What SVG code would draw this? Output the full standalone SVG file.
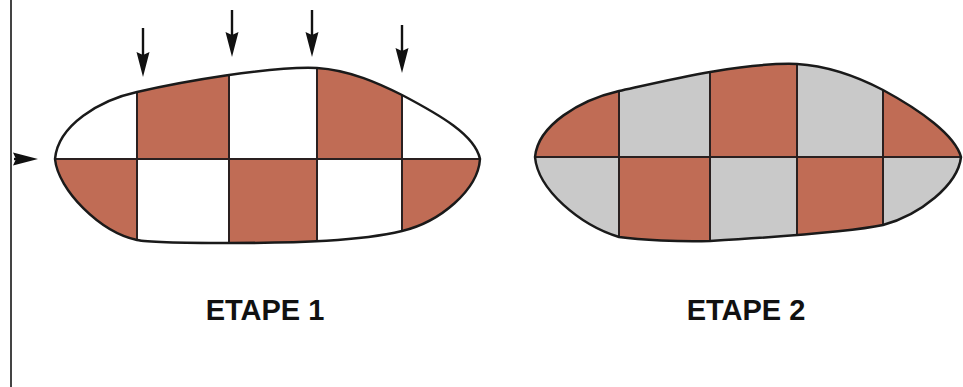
<svg xmlns="http://www.w3.org/2000/svg" width="963" height="387" viewBox="0 0 963 387">
<style>
.br{fill:#c06c55}
.wh{fill:#ffffff}
.gr{fill:#c9c9c9}
.grid{stroke:#2a2020;stroke-width:2;fill:none}
.outline{stroke:#1a1a1a;stroke-width:2.5;fill:none}
.arrow{stroke:#111;stroke-width:2.4;fill:none;marker-end:url(#ah)}
.label{font-family:"Liberation Sans",Arial,sans-serif;font-weight:bold;font-size:29px;fill:#111;text-anchor:middle}
</style>
<defs>
<marker id="ah" markerUnits="userSpaceOnUse" markerWidth="26" markerHeight="14" viewBox="0 0 26 14" refX="12" refY="7" orient="auto">
<path d="M0,0.5 L25,7 L0,13.5 L3,7 z" fill="#111"/>
</marker>
<clipPath id="c1"><path d="M55,159 C58,125 100,100 137,92 C180,82 270,66 317,68 C350,70 380,84 402,95 C440,115 475,135 480,159 C478,190 440,222 402,231 C360,241 300,243 229,243 C190,243 150,243 137,240 C100,232 58,190 55,159 Z"/></clipPath>
<clipPath id="c2"><path d="M535,157 C538,125 580,100 619,91 C660,82 740,62 797,64 C830,66 860,78 883,90 C920,110 955,135 961,157 C958,185 920,215 883,225 C850,232 760,238 710,241 C680,242 640,240 619,237 C580,225 538,190 535,157 Z"/></clipPath>
</defs>
<line x1="11" y1="0" x2="11" y2="387" stroke="#444" stroke-width="2"/>
<g id="etape1">
<g clip-path="url(#c1)">
<rect class="wh" x="40" y="50" width="97" height="109"/>
<rect class="br" x="137" y="50" width="92" height="109"/>
<rect class="wh" x="229" y="50" width="88" height="109"/>
<rect class="br" x="317" y="50" width="85" height="109"/>
<rect class="wh" x="402" y="50" width="90" height="109"/>
<rect class="br" x="40" y="159" width="97" height="100"/>
<rect class="wh" x="137" y="159" width="92" height="100"/>
<rect class="br" x="229" y="159" width="88" height="100"/>
<rect class="wh" x="317" y="159" width="85" height="100"/>
<rect class="br" x="402" y="159" width="90" height="100"/>
<path class="grid" d="M40,159 H492 M137,50 V260 M229,50 V260 M317,50 V260 M402,50 V260"/>
</g>
<path class="outline" d="M55,159 C58,125 100,100 137,92 C180,82 270,66 317,68 C350,70 380,84 402,95 C440,115 475,135 480,159 C478,190 440,222 402,231 C360,241 300,243 229,243 C190,243 150,243 137,240 C100,232 58,190 55,159 Z"/>
<text class="label" x="265" y="320">ETAPE 1</text>
</g>
<g id="etape2">
<g clip-path="url(#c2)">
<rect class="br" x="525" y="50" width="94" height="107"/>
<rect class="gr" x="619" y="50" width="91" height="107"/>
<rect class="br" x="710" y="50" width="87" height="107"/>
<rect class="gr" x="797" y="50" width="86" height="107"/>
<rect class="br" x="883" y="50" width="80" height="107"/>
<rect class="gr" x="525" y="157" width="94" height="100"/>
<rect class="br" x="619" y="157" width="91" height="100"/>
<rect class="gr" x="710" y="157" width="87" height="100"/>
<rect class="br" x="797" y="157" width="86" height="100"/>
<rect class="gr" x="883" y="157" width="80" height="100"/>
<path class="grid" d="M525,157 H963 M619,50 V260 M710,50 V260 M797,50 V260 M883,50 V260"/>
</g>
<path class="outline" d="M535,157 C538,125 580,100 619,91 C660,82 740,62 797,64 C830,66 860,78 883,90 C920,110 955,135 961,157 C958,185 920,215 883,225 C850,232 760,238 710,241 C680,242 640,240 619,237 C580,225 538,190 535,157 Z"/>
<text class="label" x="746" y="320">ETAPE 2</text>
</g>
<g id="connectors">
<line class="arrow" x1="143" y1="28" x2="143" y2="64"/>
<line class="arrow" x1="232" y1="10" x2="232" y2="44"/>
<line class="arrow" x1="312" y1="10" x2="312" y2="44"/>
<line class="arrow" x1="402" y1="25" x2="402" y2="60"/>
<line class="arrow" x1="14" y1="159" x2="25" y2="159"/>
</g>
</svg>
